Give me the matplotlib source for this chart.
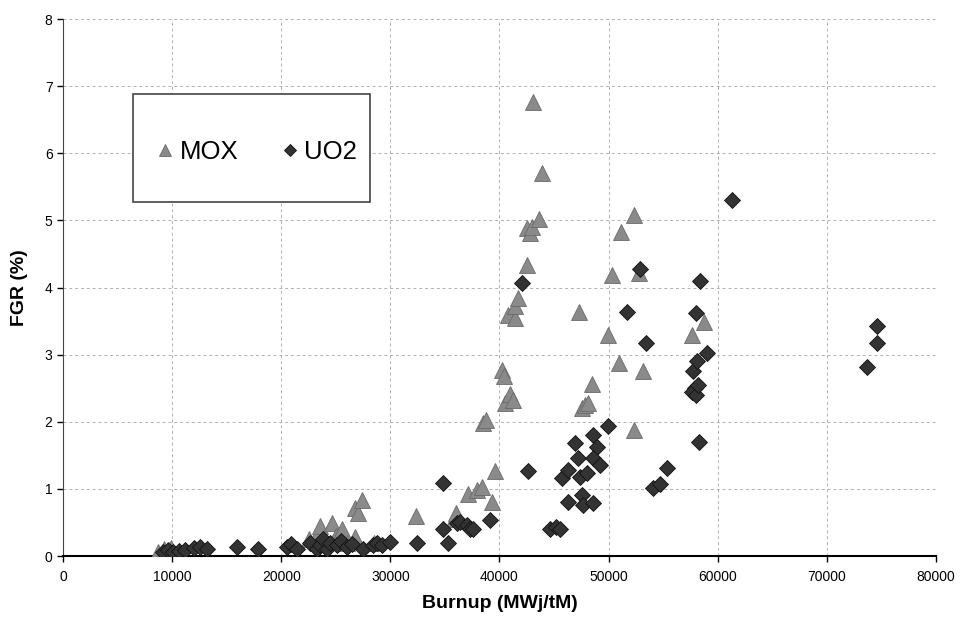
import matplotlib
matplotlib.use("Agg")
import matplotlib.pyplot as plt
from matplotlib.patches import Rectangle

plt.rcParams['font.family'] = ['Liberation Sans', 'DejaVu Sans']

# MOX data (burnup MWj/tM, FGR %)
mox_x = [8700, 9300, 9900,
         22500, 23400, 23550, 24620, 25000, 25540, 26000, 26760, 26760, 27060, 27370, 28500,
         32350, 35800, 36020, 37140, 37900, 38370, 39280, 39590, 38500, 38760,
         40200, 40400, 40500, 40960, 41200, 40810, 41420, 41420, 41730, 42550, 42490, 42800,
         42950, 43650, 43870, 43100,
         47320, 47530, 47800, 48140, 48440, 49970, 50280, 50950, 51110, 52330, 52790, 53180,
         52330, 57670, 58740]
mox_y = [0.06, 0.10, 0.12,
         0.25, 0.35, 0.44, 0.49, 0.30, 0.41, 0.20, 0.29, 0.71, 0.64, 0.83, 0.20,
         0.59, 0.55, 0.64, 0.93, 0.98, 1.03, 0.81, 1.26, 1.98, 2.03,
         2.77, 2.68, 2.28, 2.42, 2.32, 3.59, 3.54, 3.72, 3.84, 4.34, 4.88, 4.81,
         4.90, 5.02, 5.70, 6.77,
         3.64, 2.20, 2.25, 2.28, 2.57, 3.29, 4.19, 2.88, 4.83, 5.08, 4.22, 2.75,
         1.88, 3.29, 3.49]

# UO2 data
uo2_x = [9190, 9600, 10110, 10600, 11180, 12000, 12560, 13170, 15920, 17900,
         20500, 20900, 21410, 22640, 23250, 23550, 23800, 24160, 24500, 25080, 25500,
         25990, 26500, 27520, 28440, 28800, 29210, 29970,
         32410, 34850, 34850, 35310, 36080, 36380, 36990, 37300, 37600, 39130,
         42030, 42580, 44630, 45200, 45550, 45700, 46310, 46310, 46920, 47230, 47380,
         47530, 47680, 47990, 48600, 48900, 48600, 49210, 48600, 49970,
         51710, 52900, 53400, 54100, 54710, 55320, 57760, 57910, 58070, 58380, 58010,
         58310, 58980, 57600, 58000, 58200, 61280, 73650, 74560, 74560]
uo2_y = [0.06, 0.09, 0.06, 0.08, 0.09, 0.12, 0.14, 0.11, 0.14, 0.11,
         0.14, 0.18, 0.11, 0.19, 0.11, 0.16, 0.25, 0.11, 0.20, 0.16, 0.23,
         0.14, 0.18, 0.11, 0.16, 0.20, 0.16, 0.21,
         0.20, 1.09, 0.41, 0.20, 0.49, 0.51, 0.46, 0.40, 0.41, 0.54,
         4.06, 1.27, 0.41, 0.43, 0.41, 1.16, 1.28, 0.81, 1.69, 1.46, 1.18,
         0.91, 0.76, 1.23, 1.80, 1.63, 1.46, 1.36, 0.79, 1.93,
         3.64, 4.27, 3.18, 1.01, 1.08, 1.31, 2.75, 2.50, 2.90, 4.09, 3.62,
         1.70, 3.02, 2.45, 2.40, 2.55, 5.30, 2.81, 3.18, 3.42]

x_ticks = [0, 10000, 20000, 30000, 40000, 50000, 60000, 70000, 80000]
y_ticks = [0, 1, 2, 3, 4, 5, 6, 7, 8]

fig = plt.figure(figsize=(9.6, 6.23), dpi=100)
ax = fig.add_axes([0.0656, 0.1075, 0.9094, 0.862])

ax.plot(mox_x, mox_y, linestyle='none', marker='^', ms=12,
        mfc='#8a8a8a', mec='#6a6a6a', mew=0.6, label='MOX', zorder=3)
ax.plot(uo2_x, uo2_y, linestyle='none', marker='D', ms=8.5,
        mfc='#333333', mec='#111111', mew=0.6, label='UO2', zorder=4)

ax.set_xlim(0, 80000)
ax.set_ylim(0, 8)
ax.set_xticks(x_ticks)
ax.set_yticks(y_ticks)
ax.set_xticklabels([str(v) for v in x_ticks], fontsize=10)
ax.set_yticklabels([str(v) for v in y_ticks], fontsize=10)
ax.tick_params(direction='out', length=4, width=1, colors='black')
ax.xaxis.set_tick_params(pad=6)

for s in ['top', 'right']:
    ax.spines[s].set_visible(False)
ax.spines['left'].set_color('#444444')
ax.spines['bottom'].set_color('black')
ax.spines['bottom'].set_linewidth(1.5)

ax.grid(True, linestyle=(0, (3, 3)), color='#b0b0b0', linewidth=0.7, zorder=0)
ax.set_axisbelow(True)

ax.set_xlabel('Burnup (MWj/tM)', fontsize=14, fontweight='bold', labelpad=8)
ax.set_ylabel('FGR (%)', fontsize=14, fontweight='bold', labelpad=12)

# legend box frame
box = Rectangle((0.0802, 0.659), 0.2715, 0.201, transform=ax.transAxes,
                facecolor='white', edgecolor='#444444', linewidth=1.2, zorder=5)
ax.add_patch(box)
leg = ax.legend(loc='center', bbox_to_anchor=(0.221, 0.752), ncol=2, fontsize=18.5,
                frameon=False, handletextpad=0.15, columnspacing=1.6,
                handlelength=0.8, markerscale=0.75, borderpad=0, borderaxespad=0)
leg.set_zorder(6)

fig.savefig('out.png', dpi=100)
